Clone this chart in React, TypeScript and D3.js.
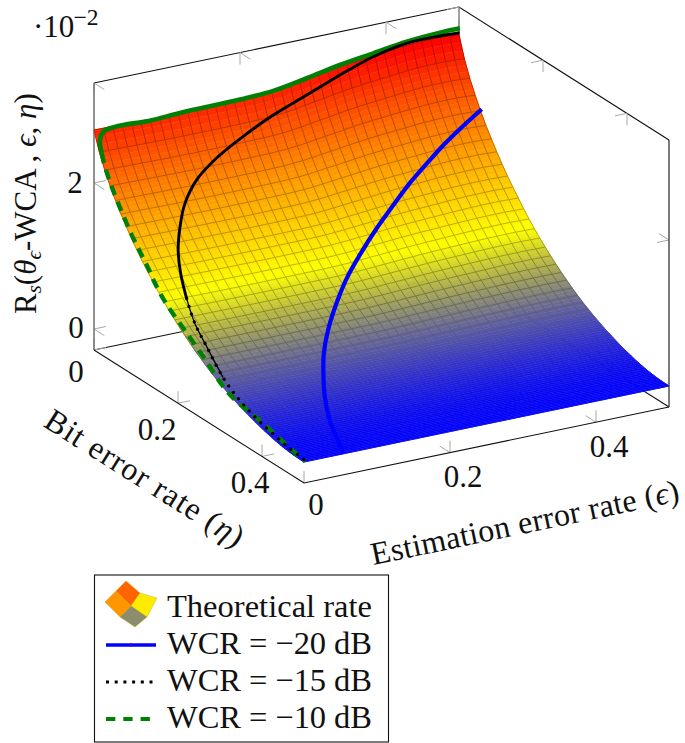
import React from "react";
import * as d3 from "d3";

// Grid coordinates of the surface samples are index-based; rate = epsProfile[i] * etaProfile[j]
const epsProfile = [
  0.02726, 0.02725, 0.02723, 0.0272, 0.02717, 0.02714, 0.02712, 0.0271, 0.02708, 0.02707,
  0.02706, 0.02706, 0.02706, 0.02707, 0.02708, 0.0271, 0.02712, 0.02715, 0.0272, 0.0273,
  0.02745, 0.02765, 0.0279, 0.02812, 0.02835, 0.0286, 0.02882, 0.02902, 0.0292, 0.02934,
  0.02948, 0.02962, 0.02978, 0.0299, 0.03, 0.03005, 0.03008, 0.03008, 0.03, 0.0299,
];
const etaProfile = [
  1.0, 0.905, 0.832, 0.77, 0.714, 0.663, 0.617, 0.573, 0.532, 0.493,
  0.458, 0.424, 0.39, 0.359, 0.33, 0.303, 0.277, 0.253, 0.23, 0.208,
  0.188, 0.168, 0.15, 0.133, 0.118, 0.103, 0.09, 0.077, 0.066, 0.055,
  0.045, 0.036, 0.028, 0.02, 0.014, 0.0085, 0.0047, 0.002, 0.0005, 0.0,
];

const blueEps = [0.5, 0.466, 0.4365, 0.407, 0.377, 0.344, 0.311, 0.274, 0.2446, 0.213, 0.178, 0.152, 0.133, 0.109, 0.087, 0.071, 0.054];
const blueEta = [0.054, 0.062, 0.073, 0.085, 0.097, 0.115, 0.133, 0.157, 0.178, 0.208, 0.248, 0.283, 0.315, 0.36, 0.41, 0.455, 0.5];
const blueRate = [0.02166, 0.02, 0.01875, 0.0173, 0.0157, 0.014, 0.0122, 0.0102, 0.0085, 0.0068, 0.0052, 0.0038, 0.0027, 0.0016, 0.00065, 0.00015, 0.0001];

const blackEps = [0.5, 0.4728, 0.4272, 0.3803, 0.3335, 0.2868, 0.2387, 0.1953, 0.151, 0.115, 0.087, 0.069, 0.052, 0.041, 0.032, 0.023, 0.0186, 0.01, 0.008, 0.0075, 0.005, 0.0036];
const blackEta = [0.0015, 0.002, 0.002, 0.004, 0.006, 0.008, 0.012, 0.02, 0.03, 0.045, 0.065, 0.085, 0.11, 0.135, 0.165, 0.2, 0.236, 0.29, 0.333, 0.39, 0.45, 0.5];
const blackRate = [0.03023, 0.03036, 0.03032, 0.02953, 0.02807, 0.02637, 0.02478, 0.02323, 0.0214, 0.0197, 0.0177, 0.0157, 0.0137, 0.0117, 0.0095, 0.0076, 0.0058, 0.0037, 0.0022, 0.0009, 0.0003, 0];

const greenEps = [0.5, 0.4734, 0.4278, 0.382, 0.3364, 0.2908, 0.2451, 0.1994, 0.1172, 0.0744, 0.038, 0.018, 0.008, 0.003, 0.002, 0.002, 0.002, 0.002, 0.002, 0.002, 0.002, 0.002, 0.002, 0.002, 0.002, 0.002, 0.002, 0.002, 0.002, 0.002];
const greenEta = [0.002, 0.001, 0.001, 0.001, 0.001, 0.001, 0.001, 0.001, 0.001, 0.004, 0.004, 0.007, 0.008, 0.009, 0.015, 0.0227, 0.0387, 0.0625, 0.0863, 0.106, 0.1258, 0.1418, 0.1656, 0.2091, 0.2568, 0.3044, 0.3323, 0.3758, 0.4554, 0.4989];
const greenRate = [0.03085, 0.03077, 0.03049, 0.02985, 0.0292, 0.02833, 0.02756, 0.02732, 0.02719, 0.02714, 0.0273, 0.02738, 0.02715, 0.02615, 0.02458, 0.02301, 0.02086, 0.0183, 0.016, 0.01441, 0.01286, 0.01138, 0.00973, 0.00767, 0.00552, 0.00315, 0.00234, 0.00188, 0.00066, 0];

const epsTicks = [0, 0.2, 0.4];
const etaTicks = [0, 0.2, 0.4];
const rateTicks = [0, 0.02];
const legendLabels = ["Theoretical rate", "WCR = \u221220 dB", "WCR = \u221215 dB", "WCR = \u221210 dB"];

const W = 685, H = 743;
const MAXE = 0.5, MAXN = 0.5, ZMIN = -0.00288, ZMAX = 0.0337;
const xE = d3.scaleLinear().domain([0, MAXE]).range([0, 365]);
const xN = d3.scaleLinear().domain([0, MAXN]).range([94, 304]);
const yE = d3.scaleLinear().domain([0, MAXE]).range([0, -76]);
const yN = d3.scaleLinear().domain([0, MAXN]).range([0, 133]);
const yZ = d3.scaleLinear().domain([0, 0.02]).range([329, 183]);
const P = (e: number, n: number, z: number): [number, number] => [xE(e) + xN(n), yE(e) + yN(n) + yZ(z)];
const gridE = d3.scaleLinear().domain([0, epsProfile.length - 1]).range([0, MAXE]);
const gridN = d3.scaleLinear().domain([0, etaProfile.length - 1]).range([0, MAXN]);
const hot = d3.scaleLinear<string>().domain([0, 0.01, 0.02, 0.03]).range(["#0000ff", "#ffff00", "#ff8000", "#ff0000"]).clamp(true);
const lowMix = d3.scaleLinear().domain([0, 0.003]).range([0.14, 0.3]).clamp(true);
const warmth = d3.scaleLinear().domain([0.003, 0.006]).range([0, 1]).clamp(true);
const rate = (i: number, j: number) => epsProfile[i] * etaProfile[j];
const poly = (pts: [number, number][]) => "M" + pts.map((p) => p[0].toFixed(2) + "," + p[1].toFixed(2)).join("L") + "Z";
const open = (pts: [number, number][]) => "M" + pts.map((p) => p[0].toFixed(2) + "," + p[1].toFixed(2)).join("L");
const curve = d3.line<[number, number]>().curve(d3.curveCatmullRom.alpha(0.5));
const track = (es: number[], ns: number[], zs: number[], from = 0, to = es.length) =>
  curve(d3.range(from, to).map((k) => P(es[k], ns[k], zs[k]))) as string;
const serif = "'Liberation Serif', serif";

function lineColor(z: number) {
  const light = d3.interpolateRgb(hot(z), "#69695f")(lowMix(z));
  const dark = d3.interpolateRgb(hot(z), "#000000")(0.27);
  return d3.interpolateRgb(light, dark)(warmth(z));
}

function Surface() {
  const fills: React.ReactNode[] = [];
  const lines: React.ReactNode[] = [];
  const ni = epsProfile.length, nj = etaProfile.length;
  const bands = 3;
  for (let j = 0; j < nj - 1; j++) {
    for (let i = ni - 2; i >= 0; i--) {
      const e0 = gridE(i), e1 = gridE(i + 1), n0 = gridN(j), n1 = gridN(j + 1);
      for (let b = 0; b < bands; b++) {
        const t0 = b / bands, t1 = (b + 1) / bands;
        const at = (ii: number, t: number) => rate(ii, j) * (1 - t) + rate(ii, j + 1) * t;
        const pn = (t: number) => n0 + (n1 - n0) * t;
        const c = hot((at(i, t0) + at(i + 1, t0) + at(i, t1) + at(i + 1, t1)) / 4);
        fills.push(
          <path key={`f${i}-${j}-${b}`} d={poly([P(e0, pn(t0), at(i, t0)), P(e1, pn(t0), at(i + 1, t0)), P(e1, pn(t1), at(i + 1, t1)), P(e0, pn(t1), at(i, t1))])} fill={c} stroke={c} strokeWidth={0.5} />
        );
      }
    }
  }
  for (let j = 0; j < nj; j++) {
    for (let i = 0; i < ni; i++) {
      const e0 = gridE(i), n0 = gridN(j);
      if (i < ni - 1) {
        const z = (rate(i, j) + rate(i + 1, j)) / 2;
        lines.push(<path key={`a${i}-${j}`} d={open([P(e0, n0, rate(i, j)), P(gridE(i + 1), n0, rate(i + 1, j))])} stroke={lineColor(z)} strokeWidth={1} fill="none" />);
      }
      if (j < nj - 1) {
        const z = (rate(i, j) + rate(i, j + 1)) / 2;
        lines.push(<path key={`b${i}-${j}`} d={open([P(e0, n0, rate(i, j)), P(e0, gridN(j + 1), rate(i, j + 1))])} stroke={lineColor(z)} strokeWidth={1} fill="none" />);
      }
    }
  }
  return <g>{fills}{lines}</g>;
}

function Ticks() {
  const out: [number, number][][] = [];
  const de = 0.0164, dn = 0.0245, dz = 0.00164;
  for (const z of rateTicks) {
    out.push([P(0, 0, z), P(de, 0, z)], [P(0, 0, z), P(0, dn, z)]);
    out.push([P(MAXE, MAXN, z), P(MAXE - de, MAXN, z)], [P(MAXE, MAXN, z), P(MAXE, MAXN - dn, z)]);
  }
  for (const e of epsTicks) {
    out.push([P(e, MAXN, ZMIN), P(e, MAXN, ZMIN + dz)], [P(e, MAXN, ZMIN), P(e, MAXN - dn, ZMIN)]);
    out.push([P(e, 0, ZMAX), P(e, 0, ZMAX - dz)], [P(e, 0, ZMAX), P(e, dn, ZMAX)]);
  }
  for (const n of etaTicks) {
    out.push([P(0, n, ZMIN), P(0, n, ZMIN + dz)], [P(0, n, ZMIN), P(de, n, ZMIN)]);
    out.push([P(MAXE, n, ZMAX), P(MAXE, n, ZMAX - dz)], [P(MAXE, n, ZMAX), P(MAXE - de, n, ZMAX)]);
  }
  return <g stroke="#a8a8a8" strokeWidth={1} fill="none">{out.map((s, i) => <path key={i} d={open(s)} />)}</g>;
}

export default function App() {
  const blackSplit = 15;
  const greenSplit = 15;
  const tickFont = { fontFamily: serif, fontSize: 31, fill: "#111" };
  return (
    <svg width={W} height={H} viewBox={`0 0 ${W} ${H}`} style={{ position: "absolute", left: 0, top: 0, background: "#fff" }}>
      {/* back of the box */}
      <path d={open([P(0, 0, ZMAX), P(MAXE, 0, ZMAX), P(MAXE, MAXN, ZMAX)])} stroke="#111" strokeWidth={1.1} fill="none" />
      <path d={open([P(0, 0, ZMIN), P(MAXE, 0, ZMIN), P(MAXE, MAXN, ZMIN)])} stroke="#111" strokeWidth={1.1} fill="none" />
      <path d={open([P(MAXE, 0, ZMAX), P(MAXE, 0, ZMIN)])} stroke="#333" strokeWidth={1} fill="none" />
      <Ticks />
      <path d={open([P(0, 0, ZMAX), P(0, 0, ZMIN)])} stroke="#777" strokeWidth={1.6} fill="none" />
      <Surface />
      <path d={open([P(MAXE, MAXN, ZMAX), P(MAXE, MAXN, ZMIN)])} stroke="#444" strokeWidth={1.4} fill="none" />
      <path d={open([P(0, 0, ZMIN), P(0, MAXN, ZMIN), P(MAXE, MAXN, ZMIN)])} stroke="#111" strokeWidth={1.1} fill="none" />

      {/* curves on the surface */}
      <path d={track(blueEps, blueEta, blueRate)} stroke="#0000ff" strokeWidth={4.2} fill="none" />
      <path d={track(greenEps, greenEta, greenRate, 0, greenSplit)} stroke="#008000" strokeWidth={4.6} fill="none" />
      <path d={track(greenEps, greenEta, greenRate, greenSplit - 1)} stroke="#008000" strokeWidth={4.4} fill="none" strokeDasharray="10 7" />
      <path d={track(blackEps, blackEta, blackRate, 0, blackSplit)} stroke="#000" strokeWidth={2.9} fill="none" />
      <path d={track(blackEps, blackEta, blackRate, blackSplit - 1, 18)} stroke="#000" strokeWidth={1.3} fill="none" />
      <path d={track(blackEps, blackEta, blackRate, blackSplit - 1)} stroke="#000" strokeWidth={3.2} fill="none" strokeDasharray="0.1 8" strokeLinecap="round" />

      {/* tick labels */}
      <text x={75} y={193} textAnchor="middle" {...tickFont}>2</text>
      <text x={76} y={338} textAnchor="middle" {...tickFont}>0</text>
      <text x={76} y={382} textAnchor="middle" {...tickFont}>0</text>
      <text x={157} y={440} textAnchor="middle" {...tickFont}>0.2</text>
      <text x={250} y={493} textAnchor="middle" {...tickFont}>0.4</text>
      <text x={316} y={515} textAnchor="middle" {...tickFont}>0</text>
      <text x={463} y={487} textAnchor="middle" {...tickFont}>0.2</text>
      <text x={609} y={457} textAnchor="middle" {...tickFont}>0.4</text>

      {/* scale factor */}
      <text x={33} y={37} fontFamily={serif} fontSize={31} fill="#111">{"\u00b710"}</text>
      <text x={73.5} y={25} fontFamily={serif} fontSize={23.5} fill="#111">{"\u22122"}</text>

      {/* axis titles */}
      <text transform="translate(36,314) rotate(-90)" fontFamily={serif} fontSize={31} fill="#111">
        R<tspan fontSize={21} fontStyle="italic" dy={5}>s</tspan>
        <tspan dy={-5}>(</tspan><tspan fontStyle="italic">{"\u03b8"}</tspan>
        <tspan fontSize={21} fontStyle="italic" dy={5}>{"\u03f5"}</tspan>
        <tspan fontSize={31} dy={-5}>-WCA</tspan><tspan>{" , "}</tspan><tspan fontStyle="italic">{"\u03f5"}</tspan><tspan>{", "}</tspan><tspan fontStyle="italic">{"\u03b7"}</tspan><tspan>)</tspan>
      </text>
      <text transform="translate(139,487) rotate(32.3)" textAnchor="middle" fontFamily={serif} fontSize={32} fill="#111" textLength={229} lengthAdjust="spacing">
        Bit error rate (<tspan fontStyle="italic">{"\u03b7"}</tspan>)
      </text>
      <text transform="translate(527,533) rotate(-11.8)" textAnchor="middle" fontFamily={serif} fontSize={32} fill="#111" textLength={314} lengthAdjust="spacing">
        Estimation error rate (<tspan fontStyle="italic">{"\u03f5"}</tspan>)
      </text>

      {/* legend */}
      <rect x={94.5} y={575} width={294} height={167} fill="#fff" stroke="#111" strokeWidth={1.1} />
      <g stroke="#c9a400" strokeOpacity={0.5} strokeWidth={0.8}>
        <path d="M126,581L140,593L131,606L116,591Z" fill="#ff6400" />
        <path d="M116,591L131,606L120,617L105,602Z" fill="#ff9600" />
        <path d="M140,593L157,598L147,617L131,606Z" fill="#ffeb00" />
        <path d="M131,606L147,617L135,627L120,617Z" fill="#8c8c6e" />
      </g>
      <path d="M106,645H156" stroke="#0000ff" strokeWidth={3.6} />
      <circle cx={131} cy={645} r={1.6} fill="#3000d0" />
      <path d="M106,682H156" stroke="#000" strokeWidth={3.2} strokeDasharray="3 5.7" />
      <path d="M106,719H152" stroke="#008000" strokeWidth={4.2} strokeDasharray="9.3 8" />
      {legendLabels.map((t, i) => (
        <text key={t} x={167} y={617 + i * 37} fontFamily={serif} fontSize={32.5} fill="#111" textLength={205} lengthAdjust="spacing">{t}</text>
      ))}
    </svg>
  );
}
